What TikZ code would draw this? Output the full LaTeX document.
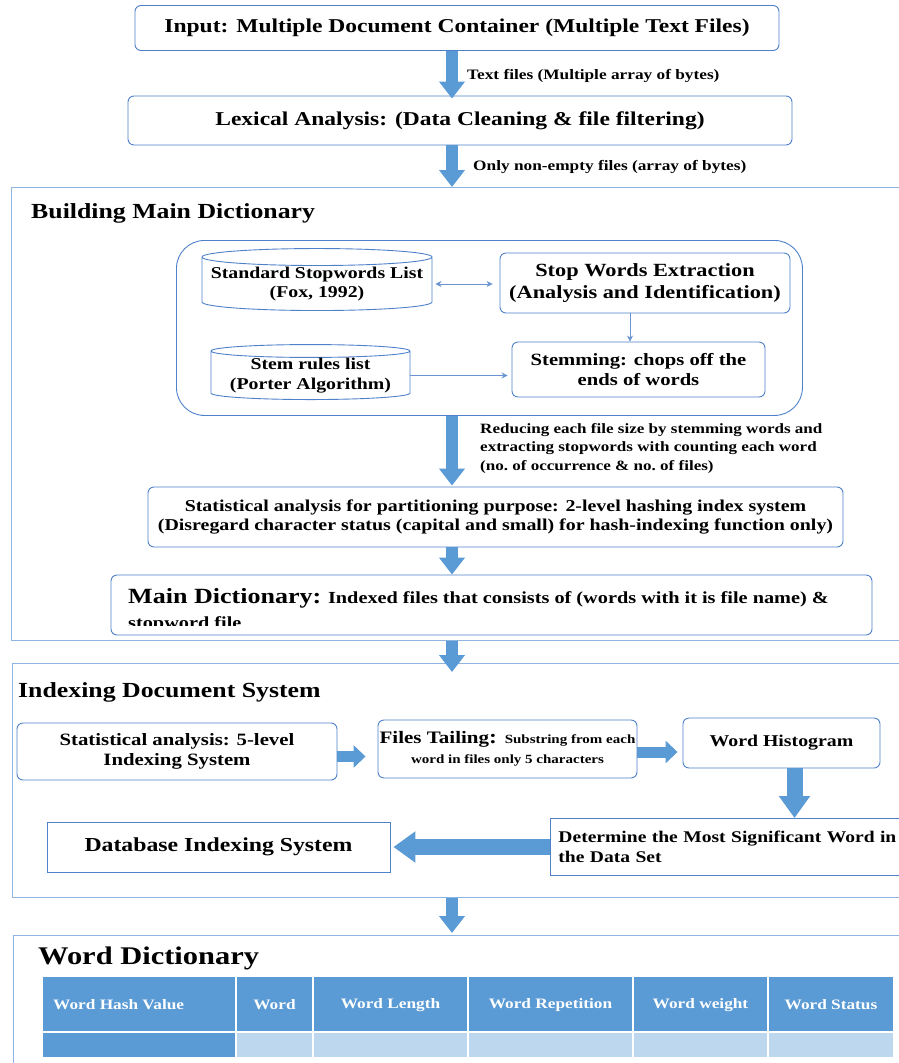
\documentclass[tikz,border=0pt]{standalone}
\usepackage{fontspec}
\setmainfont{Liberation Serif}[FakeStretch=1.2]
\usetikzlibrary{positioning, arrows.meta, shapes.geometric}
\definecolor{boxblue}{RGB}{79,129,201}
\definecolor{frameblue}{RGB}{141,180,226}
\definecolor{arrowblue}{RGB}{91,155,213}
\definecolor{celllight}{RGB}{189,215,238}
\newcommand{\fs}[1]{\fontsize{#1}{1.2\dimexpr#1pt\relax}\selectfont}

\begin{document}
\begin{tikzpicture}[x=1pt,y=-1pt,>=Stealth,
  box/.style={draw=boxblue,line width=0.9pt,rounded corners=6pt,fill=white,
              align=center,font=\bfseries\fs{19.6},inner sep=0pt},
  sqbox/.style={box,rounded corners=0pt},
  tank/.style={cylinder,shape border rotate=90,aspect=0.08,draw=boxblue,
               line width=0.9pt,align=center,font=\bfseries\fs{16.5},inner sep=0pt},
  stage/.style={draw=frameblue,line width=1pt,anchor=north west,inner sep=0pt},
  heading/.style={anchor=west,font=\bfseries\fs{21.5},inner sep=0pt},
  note/.style={anchor=west,align=left,font=\bfseries\fs{14.4},inner sep=0pt},
  bigarrow/.style={arrowblue,line width=12pt,-{Triangle[length=17pt,width=25pt]}},
  midarrow/.style={arrowblue,line width=11pt,-{Triangle[length=12pt,width=22pt]}},
  fatarrow/.style={arrowblue,line width=16pt,-{Triangle[length=22pt,width=30pt]}},
  link/.style={->,boxblue!85,line width=0.8pt,>={Stealth[length=6pt,width=6pt]}},
  cell/.style={font=\bfseries\fs{14.4},text=white,inner sep=0pt}
]
  \useasboundingbox (0,0) rectangle (899,1063);
  \clip (0,0) rectangle (899,1063);
  \coordinate (spine) at (452,0);

  % input and cleaning
  \node[box,minimum width=644pt,minimum height=45pt](input) at (457,28)
       {Input: Multiple Document Container (Multiple Text Files)};
  \node[box,minimum width=664pt,minimum height=49pt](lex) at (460,120.5)
       {Lexical Analysis: (Data Cleaning \& file filtering)};
  \node[note](n1) at (467,76){Text files (Multiple array of bytes)};
  \node[note](n2) at (473,167){Only non-empty files (array of bytes)};

  % building main dictionary
  \node[stage,minimum width=900pt,minimum height=453pt](build) at (11,187){};
  \node[heading](tbuild) at (31,213){Building Main Dictionary};
  \node[draw=boxblue,line width=0.9pt,rounded corners=28pt,anchor=north west,
        minimum width=626pt,minimum height=175pt](inner) at (176,240){};
  \node[tank,minimum width=230pt,minimum height=62pt](stoplist) at (317,284)
       {Standard Stopwords List\\(Fox, 1992)};
  \node[box,minimum width=290pt,minimum height=60pt,font=\bfseries\fs{18.6}](swx) at (645,283)
       {Stop Words Extraction\\(Analysis and Identification)};
  \node[tank,minimum width=199pt,minimum height=55pt](stemlist) at (310.5,375.5)
       {Stem rules list\\(Porter Algorithm)};
  \node[box,minimum width=253pt,minimum height=55pt,font=\bfseries\fs{17.2}](stem) at (638.5,369.5)
       {Stemming: chops off the\\ends of words};
  \draw[link,<->,shorten <=3pt,shorten >=7pt](stoplist.east) -- (stoplist.east -| swx.west);
  \draw[link]([xshift=-15pt]swx.south) -- ([xshift=-15pt]swx.south |- stem.north);
  \draw[link,shorten >=4pt](stemlist.east) -- (stemlist.east -| stem.west);
  \node[note,anchor=north west,font=\bfseries\fs{14.2},
        text depth=0pt](n3) at (480,423)
       {Reducing each file size by stemming words and\\[1.5pt]
        extracting stopwords with counting each word\\[1.5pt]
        (no.\ of occurrence \& no.\ of files)};
  \node[box,minimum width=695pt,minimum height=60pt,font=\bfseries\fs{16.6}](stat) at (495.5,517)
       {Statistical analysis for partitioning purpose: 2-level hashing index system\\
        (Disregard character status (capital and small) for hash-indexing function only)};
  \node[box,minimum width=761pt,minimum height=60pt](maind) at (491.5,605){};
  \begin{scope}
    \clip (maind.north west) rectangle ([yshift=10pt]maind.south east);
    \node[anchor=north west,align=left,font=\bfseries\fs{16.9},inner sep=0pt](maindtxt) at (128,588)
         {{\fs{21.7}Main Dictionary:} Indexed files that consists of (words with it is file name) \&\\[5pt]
          stopword file};
  \end{scope}

  % main flow
  \draw[bigarrow](input.south -| spine) -- ([yshift=-3pt]lex.north -| spine);
  \draw[bigarrow](lex.south -| spine) -- (build.north -| spine);
  \draw[bigarrow](inner.south -| spine) -- ([yshift=1pt]stat.north -| spine);
  \draw[bigarrow](stat.south -| spine) -- (maind.north -| spine);

  % indexing document system
  \node[stage,minimum width=900pt,minimum height=234pt](idx) at (12,663){};
  \node[heading](tidx) at (18,692){Indexing Document System};
  \node[box,minimum width=320pt,minimum height=57pt,font=\bfseries\fs{17.3}](sa5) at (177,751.5)
       {Statistical analysis: 5-level\\Indexing System};
  \node[box,minimum width=259pt,minimum height=58pt](tail) at (507.5,749)
       {{\fs{17.5}Files Tailing}: {\fs{12.5}Substring from each}\\[-3pt]{\fs{12.5}word in files only 5 characters}};
  \node[box,minimum width=197pt,minimum height=50pt,font=\bfseries\fs{16.5}](hist) at (781.5,743){Word Histogram};
  \node[sqbox,anchor=north west,minimum height=57pt,text width=400pt,inner xsep=8pt,
        align=left,font=\bfseries\fs{16.3}](sig) at (550,818)
       {Determine the Most Significant Word in\\the Data Set};
  \node[sqbox,minimum width=343pt,minimum height=50pt,font=\bfseries\fs{19.8}](db) at (218.5,847)
       {Database Indexing System};
  \draw[midarrow]([yshift=-5pt]sa5.east) -- ([xshift=-12pt,yshift=-5pt]sa5.east -| tail.west);
  \draw[midarrow]([yshift=-3pt]tail.east) -- ([xshift=-5pt,yshift=-3pt]tail.east -| hist.west);
  \draw[fatarrow]([xshift=13pt]hist.south) -- ([xshift=13pt]hist.south |- sig.north);
  \draw[fatarrow](sig.west |- db.east) -- ([xshift=3pt]db.east);
  \draw[bigarrow](build.south -| spine) -- ([yshift=-9pt]idx.north -| spine);

  % word dictionary
  \node[stage,minimum width=900pt,minimum height=140pt](dict) at (13,935){};
  \draw[bigarrow](idx.south -| spine) -- ([yshift=2pt]dict.north -| spine);
  \node[heading,font=\bfseries\fs{25.4}](tdict) at (38,958){Word Dictionary};
  \fill[arrowblue](43,977) rectangle (235,1031);
  \fill[arrowblue](43,1033) rectangle (235,1057);
  \node[cell,anchor=west](h1) at (53,1005){Word Hash Value};
  \foreach \xa/\xb/\txt [count=\i from 2] in {237/312/Word,314/467/Word Length,
      469/632/Word Repetition,634/767/Word weight,769/893/Word Status}{
    \fill[arrowblue](\xa,977) rectangle (\xb,1031);
    \fill[celllight](\xa,1033) rectangle (\xb,1057);
    \node[cell](h\i) at ({(\xa+\xb)/2},1005){\txt};
  }
\end{tikzpicture}
\end{document}
